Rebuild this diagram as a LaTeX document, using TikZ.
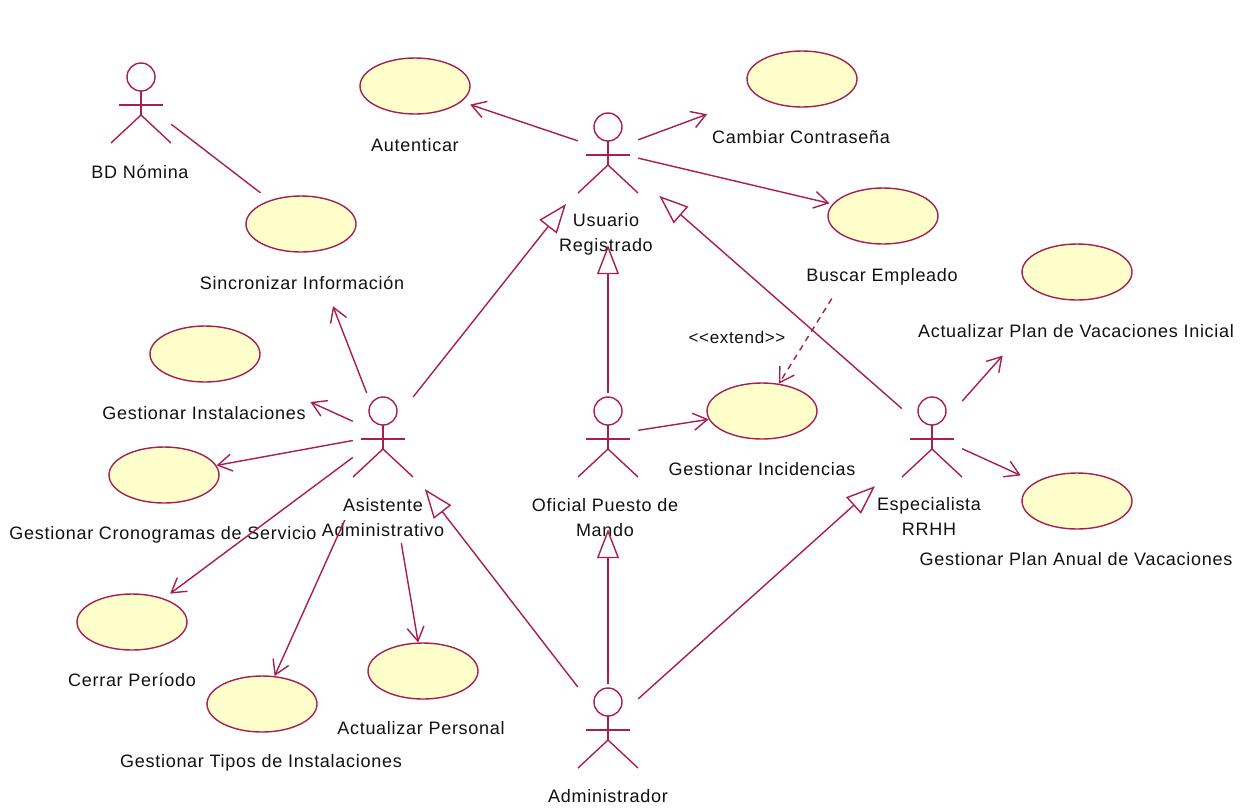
\documentclass[tikz,border=0pt]{standalone}
\usepackage{fontspec}
\setmainfont[LetterSpace=4]{Liberation Sans}
\usetikzlibrary{shapes.geometric,arrows.meta}
\definecolor{rosered}{HTML}{A81E50}
\definecolor{rosefill}{HTML}{FFFFCC}
\definecolor{labeltext}{HTML}{111111}
\tikzset{
  usecase/.style={ellipse,draw=rosered,fill=rosefill,line width=1.4pt,minimum width=110pt,minimum height=56pt,inner sep=0pt},
  actorbox/.style={rectangle,minimum width=60pt,minimum height=84pt,inner sep=0pt,draw=none},
  figline/.style={draw=rosered,line width=1.4pt},
  lbl/.style={text=labeltext,font=\fontsize{18}{25}\selectfont,align=center,inner sep=0pt,text height=13pt,text depth=4pt},
  assoc/.style={draw=rosered,line width=1.4pt},
  nav/.style={assoc,-{Straight Barb[length=14pt,width=17pt,line width=1.4pt]}},
  gen/.style={assoc,-{Triangle[open,length=29pt,width=22pt,line width=1.4pt]}},
  dep/.style={nav,dash pattern=on 6pt off 5pt},
}
\newcommand{\actorfig}[3]{%
  \node[actorbox] (#1) at (#2,#3) {};
  \draw[figline] ([yshift=24pt]#1.center) circle (14pt);
  \draw[figline] ([yshift=10pt]#1.center) -- ([yshift=-14pt]#1.center);
  \draw[figline] ([xshift=-22pt,yshift=-4pt]#1.center) -- ([xshift=22pt,yshift=-4pt]#1.center);
  \draw[figline] ([xshift=-30pt,yshift=-42pt]#1.center) -- ([yshift=-14pt]#1.center) -- ([xshift=30pt,yshift=-42pt]#1.center);
}
\begin{document}
\begin{tikzpicture}[x=1pt,y=-1pt]
\useasboundingbox (0,0) rectangle (1244,807);
\fill[white] (0,0) rectangle (1244,807);
% actors
\actorfig{bd}{141}{101}
\actorfig{usuario}{608}{151}
\actorfig{asistente}{383}{435}
\actorfig{oficial}{608}{435}
\actorfig{especialista}{932}{435}
\actorfig{admin}{608}{726}
% use cases
\node[usecase] (autenticar) at (415,86) {};
\node[usecase] (cambiar) at (802,79) {};
\node[usecase] (buscar) at (883,216) {};
\node[usecase] (sincronizar) at (301,224) {};
\node[usecase] (instalaciones) at (205,354) {};
\node[usecase] (cronogramas) at (164,475) {};
\node[usecase] (cerrar) at (132,622) {};
\node[usecase] (tipos) at (262,704) {};
\node[usecase] (personal) at (423,671) {};
\node[usecase] (incidencias) at (762,411) {};
\node[usecase] (planini) at (1077,272) {};
\node[usecase] (plananual) at (1077,501) {};
% labels
\node[lbl] (lbd) at (140,174) {BD Nómina};
\node[lbl] (lusuario) at (606,247) {Usuario\\Registrado};
\node[lbl] (lasistente) at (383,532) {Asistente\\Administrativo};
\node[lbl] (loficial) at (605,532) {Oficial Puesto de\\Mando};
\node[lbl] (lespecialista) at (929,531) {Especialista\\RRHH};
\node[lbl] (ladmin) at (608,798) {Administrador};
\node[lbl] (lautenticar) at (415,147) {Autenticar};
\node[lbl] (lcambiar) at (801,139) {Cambiar Contraseña};
\node[lbl] (lbuscar) at (882,277) {Buscar Empleado};
\node[lbl] (lsincronizar) at (302,285) {Sincronizar Información};
\node[lbl] (linstalaciones) at (204,415) {Gestionar Instalaciones};
\node[lbl] (lcronogramas) at (163,535) {Gestionar Cronogramas de Servicio};
\node[lbl] (lcerrar) at (132,682) {Cerrar Período};
\node[lbl] (ltipos) at (261,763) {Gestionar Tipos de Instalaciones};
\node[lbl] (lpersonal) at (421,730) {Actualizar Personal};
\node[lbl] (lincidencias) at (762,471) {Gestionar Incidencias};
\node[lbl] (lplanini) at (1076,333) {Actualizar Plan de Vacaciones Inicial};
\node[lbl] (lplananual) at (1076,561) {Gestionar Plan Anual de Vacaciones};
\node[lbl,font=\fontsize{17}{22}\selectfont] (lextend) at (737,339) {<{}<extend>{}>};
% connectors
\draw[assoc,shorten >=12pt] (bd) -- (sincronizar);
\draw[nav,shorten >=9pt] (usuario) -- (autenticar);
\draw[nav,shorten >=53pt] (usuario) -- (cambiar);
\draw[nav,shorten >=3pt] (usuario) -- (buscar);
\draw[nav,shorten >=58pt] (asistente) -- (sincronizar);
\draw[nav,shorten >=70pt] (asistente) -- (instalaciones);
\draw[nav] (asistente) -- (cronogramas);
\draw[nav,shorten >=8pt] (asistente) -- (cerrar);
\draw[nav,shorten <=47pt] (asistente) -- (tipos);
\draw[nav,shorten <=67pt] (asistente) -- (personal);
\draw[nav] (oficial) -- (incidencias);
\draw[nav,shorten >=77pt] (especialista) -- (planini);
\draw[nav,shorten >=16pt] (especialista) -- (plananual);
\draw[dep,shorten <=65pt] (buscar) -- (incidencias);
\draw[gen,shorten >=19pt] (asistente) -- (usuario);
\draw[gen,shorten >=52pt] (oficial) -- (usuario);
\draw[gen,shorten >=28pt] (especialista) -- (usuario);
\draw[gen,shorten >=19pt] (admin) -- (asistente);
\draw[gen,shorten >=52pt] (admin) -- (oficial);
\draw[gen,shorten >=36pt] (admin) -- (especialista);
\end{tikzpicture}
\end{document}
